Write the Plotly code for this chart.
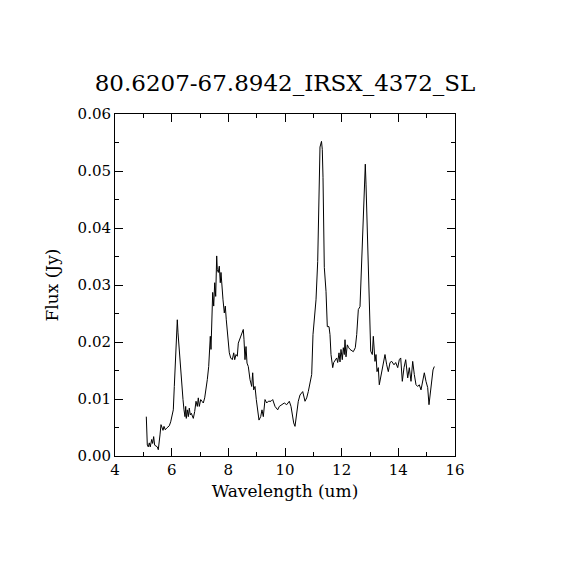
import plotly.graph_objects as go

wavelength = [5.105, 5.12, 5.14, 5.175, 5.21, 5.245, 5.295, 5.33, 5.365, 5.40, 5.447, 5.493, 5.528, 5.553, 5.588,
              5.624, 5.659, 5.694, 5.729, 5.775, 5.825, 5.871, 5.916, 5.966, 6.012, 6.058, 6.093, 6.128, 6.164, 6.199,
              6.224, 6.259, 6.294, 6.329, 6.365, 6.40, 6.435, 6.471, 6.495, 6.516, 6.552, 6.587, 6.622, 6.658, 6.693,
              6.728, 6.764, 6.813, 6.859, 6.905, 6.94, 6.975, 7.025, 7.071, 7.116, 7.166, 7.212, 7.258, 7.307, 7.335,
              7.364, 7.388, 7.413, 7.448, 7.484, 7.519, 7.554, 7.589, 7.611, 7.646, 7.681, 7.716, 7.741, 7.766, 7.812,
              7.858, 7.893, 7.928, 7.964, 7.999, 8.034, 8.084, 8.14, 8.19, 8.225, 8.271, 8.316, 8.352, 8.401, 8.447,
              8.493, 8.528, 8.553, 8.588, 8.624, 8.659, 8.705, 8.765, 8.825, 8.86, 8.895, 8.941, 8.987, 9.036, 9.082,
              9.142, 9.188, 9.234, 9.294, 9.354, 9.411, 9.506, 9.566, 9.647, 9.742, 9.799, 9.884, 9.975, 10.06, 10.152,
              10.212, 10.258, 10.307, 10.353, 10.413, 10.469, 10.529, 10.625, 10.706, 10.766, 10.822, 10.882, 10.942,
              10.988, 11.041, 11.094, 11.154, 11.182, 11.235, 11.288, 11.316, 11.341, 11.366, 11.387, 11.447, 11.493,
              11.553, 11.588, 11.624, 11.684, 11.719, 11.825, 11.86, 11.906, 11.941, 11.976, 12.022, 12.058, 12.093,
              12.118, 12.153, 12.199, 12.248, 12.294, 12.411, 12.481, 12.531, 12.588, 12.647, 12.693, 12.742, 12.788,
              12.834, 12.859, 12.905, 12.954, 13.0, 13.025, 13.081, 13.117, 13.176, 13.212, 13.247, 13.293, 13.328,
              13.388, 13.448, 13.529, 13.589, 13.646, 13.706, 13.766, 13.847, 13.907, 13.978, 14.034, 14.084, 14.14,
              14.2, 14.26, 14.331, 14.387, 14.447, 14.507, 14.564, 14.624, 14.684, 14.74, 14.8, 14.86, 14.917, 14.976,
              15.036, 15.082, 15.128, 15.178, 15.224, 15.27]

flux = [0.0069, 0.0034, 0.0019, 0.0016, 0.0023, 0.0016, 0.0029, 0.0022, 0.0034, 0.0019, 0.0018, 0.0016, 0.0011, 0.0028,
        0.0037, 0.0055, 0.0049, 0.0045, 0.0052, 0.0046, 0.0049, 0.0052, 0.0053, 0.0060, 0.0072, 0.0081, 0.0122, 0.0157,
        0.0216, 0.0239, 0.0216, 0.0192, 0.0157, 0.0134, 0.0116, 0.0099, 0.0081, 0.0069, 0.0087, 0.0066, 0.0081, 0.0069,
        0.0084, 0.0072, 0.0075, 0.0069, 0.0066, 0.0078, 0.0096, 0.0087, 0.0102, 0.0087, 0.0099, 0.0096, 0.0093, 0.0102,
        0.0116, 0.0134, 0.0157, 0.0181, 0.0210, 0.0187, 0.0245, 0.0287, 0.0263, 0.0304, 0.0280, 0.0351, 0.0327, 0.0322,
        0.0333, 0.0304, 0.0322, 0.0298, 0.0274, 0.0251, 0.0263, 0.0239, 0.0222, 0.0204, 0.0181, 0.0172, 0.0169, 0.0181,
        0.0169, 0.0178, 0.0175, 0.0198, 0.0204, 0.0210, 0.0216, 0.0222, 0.0204, 0.0169, 0.0192, 0.0163, 0.0157, 0.0134,
        0.0122, 0.0146, 0.0116, 0.0122, 0.0099, 0.0075, 0.0063, 0.0069, 0.0081, 0.0069, 0.0099, 0.0093, 0.0096, 0.0096,
        0.0099, 0.0087, 0.0081, 0.0087, 0.0090, 0.0093, 0.0090, 0.0096, 0.0087, 0.0069, 0.0058, 0.0052, 0.0078, 0.0096,
        0.0107, 0.0113, 0.0096, 0.0102, 0.0113, 0.0131, 0.0143, 0.0213, 0.0248, 0.0274, 0.0341, 0.0442, 0.0542, 0.0552,
        0.0538, 0.0489, 0.0429, 0.0331, 0.0289, 0.0227, 0.0227, 0.0213, 0.0178, 0.0155, 0.0164, 0.0172, 0.0164, 0.0181,
        0.0165, 0.0187, 0.0169, 0.0190, 0.0178, 0.0204, 0.0174, 0.0195, 0.0190, 0.0187, 0.0183, 0.0190, 0.0213, 0.0257,
        0.0262, 0.0318, 0.0389, 0.0465, 0.0512, 0.0477, 0.0389, 0.0296, 0.0201, 0.0184, 0.0178, 0.0210, 0.0166, 0.0178,
        0.0148, 0.0155, 0.0125, 0.0143, 0.0155, 0.0178, 0.0160, 0.0148, 0.0164, 0.0166, 0.0160, 0.0164, 0.0155, 0.0169,
        0.0172, 0.0131, 0.0155, 0.0169, 0.0137, 0.0155, 0.0131, 0.0166, 0.0143, 0.0125, 0.0122, 0.0125, 0.0116, 0.0131,
        0.0146, 0.0131, 0.0120, 0.0090, 0.0107, 0.0131, 0.0151, 0.0157]

x_ticks = [4, 6, 8, 10, 12, 14, 16]
y_ticks = [0.00, 0.01, 0.02, 0.03, 0.04, 0.05, 0.06]
x_labels = [str(v) for v in x_ticks]
y_labels = [f"{v:.2f}" for v in y_ticks]

title_text = "80.6207-67.8942_IRSX_4372_SL"
serif = "DejaVu Serif, Liberation Serif, serif"

fig = go.Figure()
fig.add_trace(go.Scatter(x=wavelength, y=flux, mode="lines",
                         line=dict(color="black", width=1), showlegend=False))

axis_common = dict(showgrid=False, zeroline=False, showline=True, linecolor="black", linewidth=1,
                   mirror="ticks", ticks="inside", ticklen=8, tickwidth=1, tickcolor="black",
                   tickfont=dict(family=serif, size=15, color="black"))

fig.update_xaxes(range=[4, 16], tickvals=x_ticks, ticktext=x_labels,
                 minor=dict(dtick=1, ticks="inside", ticklen=4, tickcolor="black"),
                 title=dict(text="Wavelength (um)", font=dict(family=serif, size=17, color="black"), standoff=7),
                 **axis_common)
fig.update_yaxes(range=[0, 0.06], tickvals=y_ticks, ticktext=y_labels,
                 minor=dict(dtick=0.005, ticks="inside", ticklen=4, tickcolor="black"),
                 title=dict(text="Flux (Jy)", font=dict(family=serif, size=17, color="black"), standoff=14),
                 **axis_common)

fig.update_layout(
    width=570, height=570,
    margin=dict(l=107, r=123, t=106, b=122),
    paper_bgcolor="white", plot_bgcolor="white",
    title=dict(text=title_text, x=(285 - 8) / 570, xanchor="center", y=1 - 75 / 570, yanchor="middle",
               font=dict(family=serif, size=23, color="black")),
)

fig.write_html("out.html")
